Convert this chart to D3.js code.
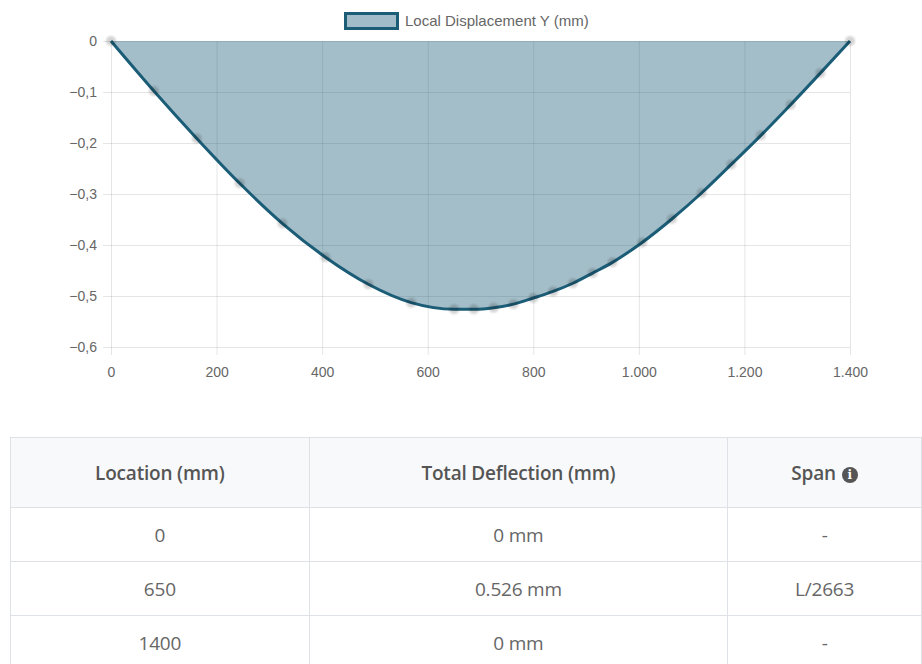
<!DOCTYPE html>
<html>
<head>
<meta charset="utf-8">
<script src="https://cdn.jsdelivr.net/npm/d3@7"></script>
<style>
  html, body { margin: 0; padding: 0; background: #fff; width: 922px; height: 664px; overflow: hidden; }
  #chart { position: absolute; left: 0; top: 0; }
  #tbl { position: absolute; left: 10px; top: 437px; border-collapse: collapse; font-family: "Open Sans", sans-serif; font-size: 19px; color: #666; letter-spacing: -0.2px; }
  #tbl th, #tbl td { border: 1px solid #dee2e6; text-align: center; padding: 0; }
  #tbl th { background: #f8f9fa; font-weight: 600; color: #555; height: 69px; }
  #tbl td { height: 53px; }
  .info { display: inline-block; width: 16px; height: 16px; border-radius: 50%; background: #555; color: #fff; font-size: 12px; line-height: 16px; font-weight: 700; font-family: "DejaVu Serif", serif; vertical-align: 1px; margin-left: 6px; letter-spacing: 0; }
</style>
</head>
<body>
<svg id="chart" width="922" height="430"></svg>
<table id="tbl"></table>
<script>
// ---- data ----
const locations = [0, 81.25, 162.5, 243.75, 325, 406.25, 487.5, 568.75, 650, 687.5, 725, 762.5, 800, 837.5, 875, 912.5, 950, 1006.25, 1062.5, 1118.75, 1175, 1231.25, 1287.5, 1343.75, 1400];
const displacementY = [0, -0.098, -0.191, -0.279, -0.358, -0.424, -0.477, -0.513, -0.526, -0.526, -0.523, -0.516, -0.504, -0.491, -0.475, -0.455, -0.434, -0.395, -0.349, -0.298, -0.242, -0.185, -0.125, -0.063, 0];
const seriesLabel = "Local Displacement Y (mm)";
const xTicks = [0, 200, 400, 600, 800, 1000, 1200, 1400];
const yTicks = [0, -0.1, -0.2, -0.3, -0.4, -0.5, -0.6];

const tableHeaders = ["Location (mm)", "Total Deflection (mm)", "Span"];
const tableLocations = ["0", "650", "1400"];
const tableDeflections = ["0 mm", "0.526 mm", "0 mm"];
const tableSpans = ["-", "L/2663", "-"];

// ---- chart ----
const svg = d3.select("#chart");
const x = d3.scaleLinear().domain([0, 1400]).range([111, 850]);
const y = d3.scaleLinear().domain([-0.6, 0]).range([347, 41]);
const loc = d3.formatLocale({ decimal: ",", thousands: ".", grouping: [3], currency: ["", "€"], minus: "\u2212" });
const fx = loc.format(",.0f");
const fy = loc.format(".1~f");

const gridColor = "rgba(0,0,0,0.1)";
const labelColor = "#666";
const font = "Liberation Sans, Arial, sans-serif";

const defs = svg.append("defs");
defs.append("filter").attr("id", "blur").append("feGaussianBlur").attr("stdDeviation", 1.1);

// grid + ticks
const gx = svg.append("g").attr("transform", "translate(0,347)")
  .call(d3.axisBottom(x).tickValues(xTicks).tickFormat(fx).tickPadding(14));
gx.select(".domain").remove();
gx.selectAll(".tick line").attr("stroke", gridColor).attr("y1", 8).attr("y2", -306);
gx.selectAll(".tick text").attr("fill", labelColor).attr("font-family", font).attr("font-size", 14);

const gy = svg.append("g").attr("transform", "translate(111,0)")
  .call(d3.axisLeft(y).tickValues(yTicks).tickFormat(fy).tickPadding(8));
gy.select(".domain").remove();
gy.selectAll(".tick line").attr("stroke", gridColor).attr("x1", -8).attr("x2", 739);
gy.selectAll(".tick text").attr("fill", labelColor).attr("font-family", font).attr("font-size", 14);

const data = locations.map((d, i) => ({ x: d, y: displacementY[i] }));
const lineColor = "#1b5d77";

const area = d3.area().x(d => x(d.x)).y0(y(0)).y1(d => y(d.y)).curve(d3.curveMonotoneX);
svg.append("path").datum(data).attr("d", area).attr("fill", lineColor).attr("fill-opacity", 0.4);

const line = d3.line().x(d => x(d.x)).y(d => y(d.y)).curve(d3.curveMonotoneX);
svg.append("path").datum(data).attr("d", line).attr("fill", "none").attr("stroke", lineColor).attr("stroke-width", 3);

svg.append("g").selectAll("circle").data(data).join("circle")
  .attr("cx", d => x(d.x)).attr("cy", d => y(d.y)).attr("r", 5)
  .attr("fill", "rgba(0,0,0,0.17)").attr("filter", "url(#blur)");

// legend
const lg = svg.append("g");
lg.append("rect").attr("x", 345.5).attr("y", 13.5).attr("width", 52).attr("height", 15)
  .attr("fill", "#a3bcc9").attr("stroke", lineColor).attr("stroke-width", 3);
lg.append("text").attr("x", 405).attr("y", 26).attr("fill", labelColor)
  .attr("font-family", font).attr("font-size", 15).text(seriesLabel);

// ---- table ----
const tbl = d3.select("#tbl");
const colW = [299, 419, 194];
tbl.append("colgroup").selectAll("col").data(colW).join("col").style("width", d => d + "px");
const hr = tbl.append("thead").append("tr");
hr.selectAll("th").data(tableHeaders).join("th").each(function (d, i) {
  const th = d3.select(this);
  th.text(d);
  if (i === 2) th.append("span").attr("class", "info").text("i");
});
const rows = tableLocations.map((d, i) => [d, tableDeflections[i], tableSpans[i]]);
tbl.append("tbody").selectAll("tr").data(rows).join("tr")
  .selectAll("td").data(r => r).join("td").text(d => d);
</script>
</body>
</html>
